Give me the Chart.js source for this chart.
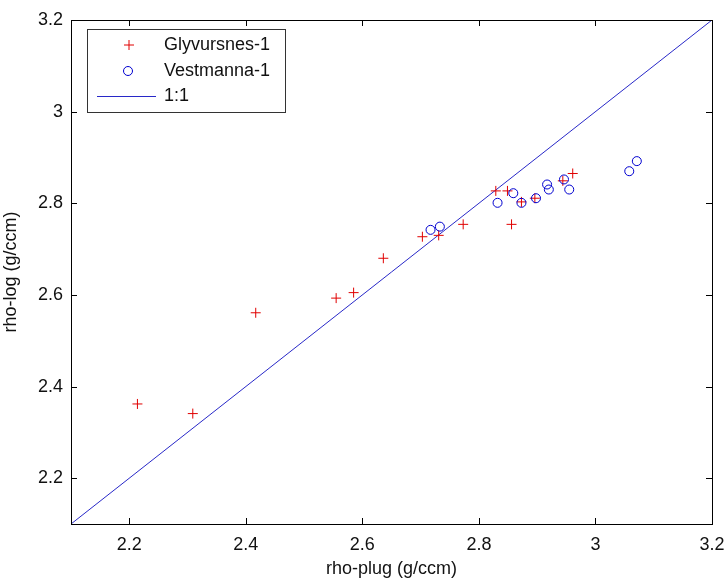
<!DOCTYPE html>
<html>
<head>
<meta charset="utf-8">
<script src="https://cdn.jsdelivr.net/npm/chart.js@4.4.1/dist/chart.umd.min.js"></script>
<style>
  html, body { margin: 0; padding: 0; background: #fff; }
  canvas { display: block; }
</style>
</head>
<body>
<canvas id="c" width="725" height="580"></canvas>
<script>
// ---- data ----
const glyvX = [2.214, 2.309, 2.417, 2.555, 2.585, 2.636, 2.703, 2.731, 2.773, 2.829, 2.849, 2.856, 2.873, 2.896, 2.944, 2.961];
const glyvY = [2.362, 2.341, 2.561, 2.593, 2.605, 2.680, 2.727, 2.730, 2.754, 2.827, 2.827, 2.754, 2.803, 2.811, 2.849, 2.865];
const vestX = [2.717, 2.733, 2.832, 2.859, 2.873, 2.898, 2.917, 2.920, 2.946, 2.955, 3.058, 3.071];
const vestY = [2.742, 2.749, 2.801, 2.822, 2.801, 2.811, 2.841, 2.830, 2.852, 2.830, 2.870, 2.892];
const lineX = [2.1, 3.2];
const lineY = [2.1, 3.2];
const xTicks = [2.2, 2.4, 2.6, 2.8, 3.0, 3.2];
const yTicks = [2.2, 2.4, 2.6, 2.8, 3.0, 3.2];
const seriesLabels = ['Glyvursnes-1', 'Vestmanna-1', '1:1'];
const xTitle = 'rho-plug (g/ccm)';
const yTitle = 'rho-log (g/ccm)';

const FONT = "'Liberation Sans', Arial, sans-serif";
const zip = (xs, ys) => xs.map((x, i) => ({ x: x, y: ys[i] }));
const fmt = v => (Math.round(v * 10) / 10 === Math.round(v) ? String(Math.round(v)) : v.toFixed(1));

const frameAndTicks = {
  id: 'frameAndTicks',
  beforeDraw(chart) {
    const ctx = chart.ctx;
    ctx.save();
    ctx.fillStyle = '#fff';
    ctx.fillRect(0, 0, chart.width, chart.height);
    ctx.restore();
  },
  afterDraw(chart) {
    const ctx = chart.ctx;
    const a = chart.chartArea;
    const xs = chart.scales.x, ys = chart.scales.y;
    const L = 6;
    ctx.save();
    ctx.strokeStyle = '#000';
    ctx.lineWidth = 1;
    ctx.beginPath();
    xTicks.forEach(v => {
      const px = Math.round(xs.getPixelForValue(v)) + 0.5;
      ctx.moveTo(px, a.bottom); ctx.lineTo(px, a.bottom - L);
      ctx.moveTo(px, a.top); ctx.lineTo(px, a.top + L);
    });
    yTicks.forEach(v => {
      const py = Math.round(ys.getPixelForValue(v)) + 0.5;
      ctx.moveTo(a.left, py); ctx.lineTo(a.left + L, py);
      ctx.moveTo(a.right, py); ctx.lineTo(a.right - L, py);
    });
    ctx.stroke();
    ctx.strokeRect(Math.round(a.left) + 0.5, Math.round(a.top) + 0.5,
                   Math.round(a.right - a.left), Math.round(a.bottom - a.top));

    // legend
    const bx = 87.5, by = 29.5, bw = 198, bh = 83;
    ctx.fillStyle = '#fff';
    ctx.fillRect(bx, by, bw, bh);
    ctx.strokeStyle = '#333';
    ctx.strokeRect(bx, by, bw, bh);
    const rows = [45, 71, 96];
    const ds = chart.data.datasets;
    ctx.font = '18px ' + FONT;
    ctx.textBaseline = 'middle';
    ctx.textAlign = 'left';
    ctx.fillStyle = '#111';
    ctx.strokeStyle = ds[0].borderColor;
    ctx.beginPath();
    ctx.moveTo(124, rows[0]); ctx.lineTo(134, rows[0]);
    ctx.moveTo(129, rows[0] - 5); ctx.lineTo(129, rows[0] + 5);
    ctx.stroke();
    ctx.strokeStyle = ds[1].borderColor;
    ctx.beginPath();
    ctx.arc(128, rows[1], 4.5, 0, Math.PI * 2);
    ctx.stroke();
    ctx.strokeStyle = ds[2].borderColor;
    ctx.beginPath();
    ctx.moveTo(97, rows[2] + 0.5); ctx.lineTo(156, rows[2] + 0.5);
    ctx.stroke();
    ds.forEach((d, i) => ctx.fillText(d.label, 164, rows[i]));
    ctx.restore();
  }
};

new Chart(document.getElementById('c'), {
  type: 'scatter',
  data: {
    datasets: [
      { label: seriesLabels[0], data: zip(glyvX, glyvY), pointStyle: 'cross', pointRadius: 5,
        borderColor: '#e00000', backgroundColor: '#e00000', borderWidth: 1, order: 2 },
      { label: seriesLabels[1], data: zip(vestX, vestY), pointStyle: 'circle', pointRadius: 4.5,
        borderColor: '#0000d0', backgroundColor: 'rgba(0,0,0,0)', borderWidth: 1, order: 1 },
      { label: seriesLabels[2], type: 'line', data: zip(lineX, lineY), showLine: true, pointRadius: 0,
        borderColor: '#2828c8', borderWidth: 1, fill: false, order: 3 }
    ]
  },
  options: {
    responsive: false,
    animation: false,
    layout: { padding: { top: 20, right: 13, left: 0, bottom: 0 } },
    plugins: { legend: { display: false }, tooltip: { enabled: false } },
    scales: {
      x: {
        type: 'linear', min: 2.1, max: 3.2,
        grid: { display: false, drawTicks: false },
        border: { display: false },
        afterBuildTicks: s => { s.ticks = xTicks.map(v => ({ value: v })); },
        afterFit: s => { s.height = 56; s.paddingLeft = 0; s.paddingRight = 0; },
        ticks: { font: { family: FONT, size: 18 }, color: '#111', padding: 10, maxRotation: 0,
                 callback: v => fmt(v) },
        title: { display: true, text: xTitle, font: { family: FONT, size: 18 }, color: '#111',
                 padding: { top: 0, bottom: 0 } }
      },
      y: {
        type: 'linear', min: 2.1, max: 3.2,
        grid: { display: false, drawTicks: false },
        border: { display: false },
        afterBuildTicks: s => { s.ticks = yTicks.map(v => ({ value: v })); },
        afterFit: s => { s.width = 71; s.paddingTop = 0; s.paddingBottom = 0; },
        ticks: { font: { family: FONT, size: 18 }, color: '#111', padding: 8,
                 callback: v => fmt(v) },
        title: { display: true, text: yTitle, font: { family: FONT, size: 18 }, color: '#111',
                 padding: { top: 0, bottom: 16 } }
      }
    }
  },
  plugins: [frameAndTicks]
});
</script>
</body>
</html>
